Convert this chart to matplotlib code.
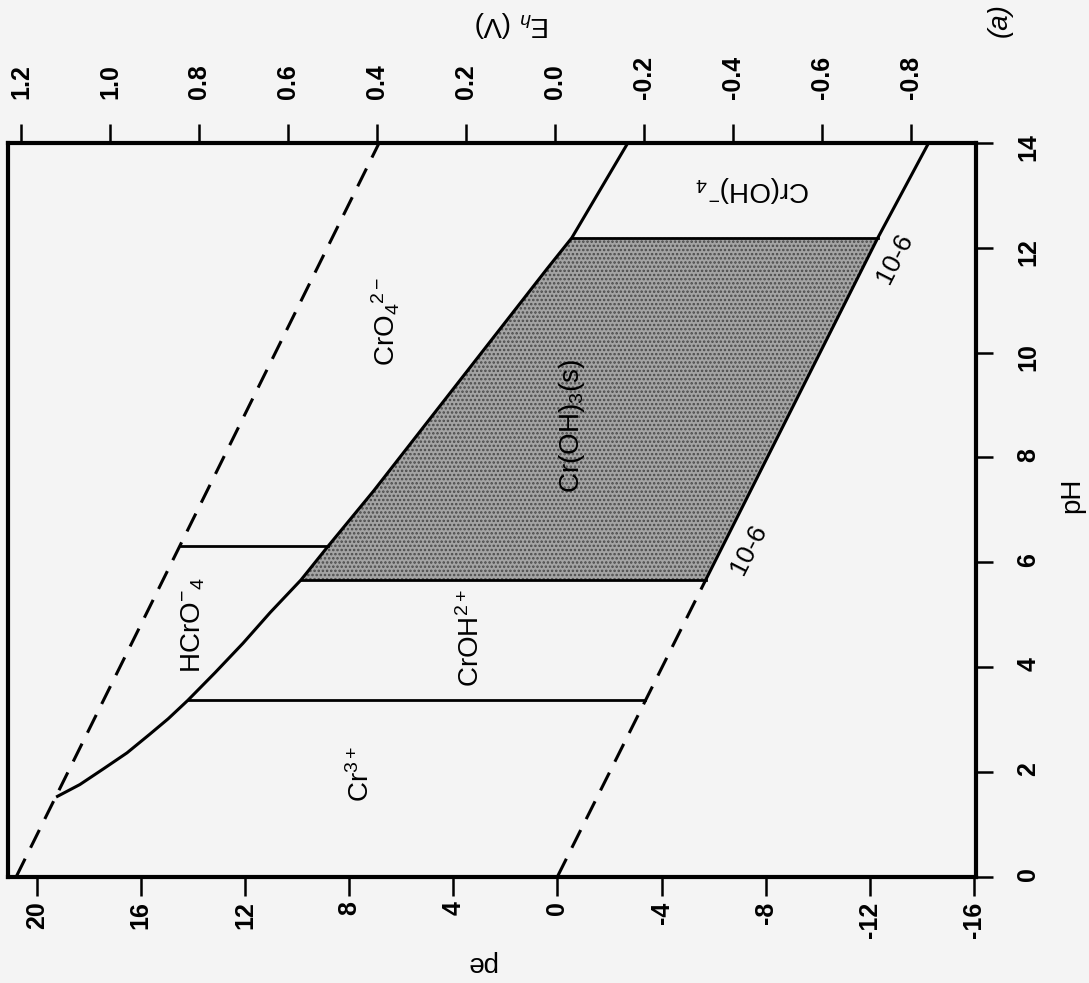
import numpy as np
import matplotlib
matplotlib.use("Agg")
import matplotlib.pyplot as plt

plt.rcParams['font.family'] = ['Liberation Sans', 'DejaVu Sans']
plt.rcParams['mathtext.fontset'] = 'custom'
plt.rcParams['mathtext.rm'] = 'Liberation Sans'
plt.rcParams['mathtext.it'] = 'Liberation Sans:italic'
plt.rcParams['mathtext.bf'] = 'Liberation Sans:bold'
plt.rcParams['axes.unicode_minus'] = False
plt.rcParams['hatch.linewidth'] = 1.2

# axis ticks
pe_ticks = [20, 16, 12, 8, 4, 0, -4, -8, -12, -16]
ph_ticks = [0, 2, 4, 6, 8, 10, 12, 14]
eh_ticks = [1.2, 1.0, 0.8, 0.6, 0.4, 0.2, 0.0, -0.2, -0.4, -0.6, -0.8]
eh_labels = ['1.2', '1.0', '0.8', '0.6', '0.4', '0.2', '0.0', '-0.2', '-0.4', '-0.6', '-0.8']

# water stability lines (pH, pe)
o2_ph = [0, 14]
o2_pe = [20.78, 6.85]
h2_ph = [0, 5.66]
h2_pe = [0, -5.69]

# Cr(III) solid / Cr(OH)4- lower boundary (10-6)
lo_ph = [5.66, 12.19, 14]
lo_pe = [-5.69, -12.3, -14.25]

# Cr(VI) / Cr(III) boundary
hi_ph = [1.53, 1.755, 2.06, 2.36, 2.71, 3.01, 3.36, 3.89, 4.45, 5.04, 5.66,
         6.31, 7.36, 11.6, 12.19, 14.0]
hi_pe = [19.2, 18.34, 17.42, 16.53, 15.67, 14.95, 14.2, 13.15, 12.08, 11.03, 9.85,
         8.8, 7.06, 0.4, -0.55, -2.7]

# constant-pH boundaries
b_ph = [3.36, 5.66, 12.19, 6.31]
b_pe_lo = [-3.37, -5.69, -12.3, 14.45]
b_pe_hi = [14.2, 9.85, -0.55, 8.8]

# species labels
lab_txt = ['Cr$^{3+}$', 'CrOH$^{2+}$', 'HCrO$^{-}$$_{4}$', 'CrO$_{4}$$^{2-}$',
           'Cr(OH)$_{3}$(s)', 'Cr(OH)$^{-}$$_{4}$']
lab_ph = [1.95, 4.54, 4.8, 10.6, 8.6, 13.12]
lab_pe = [7.53, 3.32, 14.0, 6.59, -0.55, -7.49]
lab_rot = [90, 90, 90, 90, 90, 180]

conc_ph = [11.79, 6.24]
conc_pe = [-12.96, -7.35]

bg = '#f4f4f4'
fig = plt.figure(figsize=(10.89, 9.83), dpi=100, facecolor=bg)
ax = fig.add_axes([8 / 1089, 1 - 876.5 / 983, 968 / 1089, 733.5 / 983])
ax.set_facecolor(bg)

# page is rotated: pe runs along x (decreasing), pH runs up
ax.set_xlim(21.1, -16.07)
ax.set_ylim(0, 14)

# shaded Cr(OH)3(s) field
hp = np.array(hi_ph)
he = np.array(hi_pe)
m = (hp >= 5.66) & (hp <= 12.19)
poly_pe = np.concatenate([[lo_pe[0]], he[m], [lo_pe[1]]])
poly_ph = np.concatenate([[lo_ph[0]], hp[m], [lo_ph[1]]])
ax.fill(poly_pe, poly_ph, facecolor='#a4a4a4', edgecolor='#4a4a4a', hatch='....', linewidth=0)

dash = (0, (6.5, 4))
ax.plot(o2_pe, o2_ph, color='k', lw=2.2, linestyle=dash)
ax.plot(h2_pe, h2_ph, color='k', lw=2.2, linestyle=dash)
ax.plot(lo_pe, lo_ph, color='k', lw=2.2, solid_capstyle='butt')
ax.plot(hi_pe, hi_ph, color='k', lw=2.2, solid_joinstyle='round')
for p, a, b in zip(b_ph, b_pe_lo, b_pe_hi):
    ax.plot([a, b], [p, p], color='k', lw=2.0)

for t, p, e, r in zip(lab_txt, lab_ph, lab_pe, lab_rot):
    ax.text(e, p, t, rotation=r, ha='center', va='center', fontsize=20)
for p, e in zip(conc_ph, conc_pe):
    ax.text(e, p, '10-6', rotation=63, ha='center', va='center', fontsize=19)

# spines / ticks
for s in ax.spines.values():
    s.set_linewidth(3)
ax.set_xticks(pe_ticks)
ax.set_xticklabels([str(v) for v in pe_ticks])
ax.tick_params(axis='x', direction='out', length=14, width=1.8, pad=4,
               labelsize=18, labelrotation=90)
ax.yaxis.tick_right()
ax.set_yticks(ph_ticks)
ax.tick_params(axis='y', direction='out', length=12, width=1.8, pad=17,
               labelsize=18, labelrotation=90)
for lb in ax.get_xticklabels() + ax.get_yticklabels():
    lb.set_fontweight('bold')

ax2 = ax.twiny()
ax2.set_xlim(1.2303, -0.9452)
ax2.set_xticks(eh_ticks)
ax2.set_xticklabels(eh_labels)
ax2.tick_params(axis='x', direction='out', length=14, width=1.8, pad=18,
                labelsize=18, labelrotation=90)
for lb in ax2.get_xticklabels():
    lb.set_fontweight('bold')
for s in ax2.spines.values():
    s.set_visible(False)

fig.text(481 / 1089, 1 - 963 / 983, 'pe', rotation=180, ha='center', va='center', fontsize=20)
fig.text(1072 / 1089, 1 - 495 / 983, 'pH', rotation=90, ha='center', va='center', fontsize=20)
fig.text(512 / 1089, 1 - 24 / 983, 'E$_h$ (V)', rotation=180, ha='center', va='center', fontsize=20)
fig.text(1000 / 1089, 1 - 20 / 983, '(a)', rotation=90, ha='center', va='center',
         fontsize=20, style='italic')

fig.savefig('out.png', dpi=100, facecolor=bg)
